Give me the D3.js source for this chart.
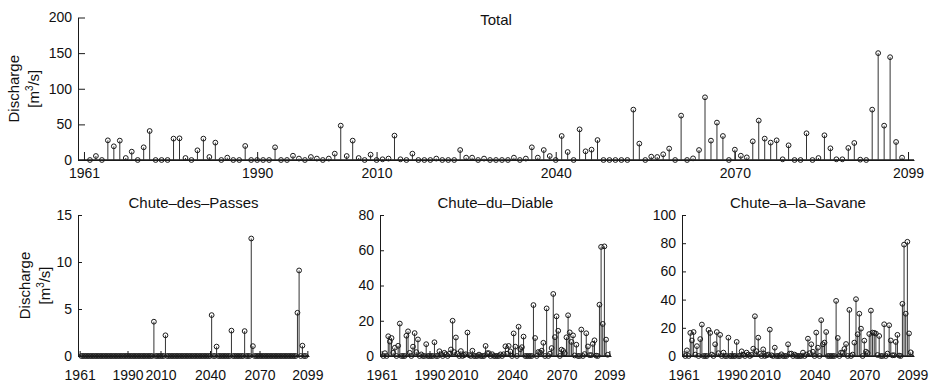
<!DOCTYPE html>
<html>
<head>
<meta charset="utf-8">
<script src="https://cdnjs.cloudflare.com/ajax/libs/d3/7.8.5/d3.min.js"></script>
<style>
body { margin: 0; background: #fff; }
svg text { font-family: "Liberation Sans", Arial, sans-serif; fill: #111; }
</style>
</head>
<body>
<svg id="svg1" width="931" height="382"></svg>
<script>

// one value per year, 1962 .. 2098
var firstYear = 1962;
var lastYear = 2098;
var tickYears = [1961, 1990, 2010, 2040, 2070, 2099];

var total = [
  0, 5.6, 0, 27.6, 19.2, 27.2, 2.8, 11.7, 0, 17.8,
  40.7, 0, 0, 0, 30, 30.4, 2.8, 0, 13.6, 30,
  4.2, 24.4, 0, 3.3, 0, 0, 19.7, 0, 0, 0,
  0, 17.8, 0, 0, 6, 2, 0, 4.2, 2, 0,
  2, 8.9, 48.2, 5.6, 27.2, 2.8, 0, 7.5, 0, 1,
  2, 34.2, 1, 0, 8.9, 0, 0, 0, 2, 0,
  0, 0, 14, 3.3, 3.3, 0, 2, 0, 0, 0,
  0, 3.3, 0, 2, 17.8, 3.3, 14, 5.6, 0, 33.7,
  11.2, 0, 43, 12.2, 14.5, 28, 0, 0, 0, 0,
  0, 70.7, 23, 0, 4.7, 4.2, 8, 16, 0, 62.3,
  0, 2.3, 14, 88, 27.2, 52.5, 33.7, 0, 14.5, 6,
  3.7, 26.2, 55.3, 30, 24.4, 27.6, 1, 20.6, 0, 0,
  37.5, 0, 2.8, 34.7, 16.4, 1, 1, 16.9, 23.9, 0.5,
  0, 70.7, 150, 48.2, 144.3, 25.3, 3.3
];

var passes = [
  0, 0, 0, 0, 0, 0, 0, 0, 0, 0,
  0, 0, 0, 0, 0, 0, 0, 0, 0, 0,
  0, 0, 0, 0, 0, 0, 0, 0, 0, 0,
  0, 0, 0, 0, 0, 0, 0, 0, 0, 0,
  0, 0, 0, 0, 3.65, 0, 0, 0, 0, 0,
  0, 2.2, 0, 0, 0, 0, 0, 0, 0, 0,
  0, 0, 0, 0, 0, 0, 0, 0, 0, 0,
  0, 0, 0, 0, 0, 0, 0, 0, 0, 4.35,
  0, 0, 1.0, 0, 0, 0, 0, 0, 0, 0,
  0, 2.7, 0, 0, 0, 0, 0, 0, 0, 2.65,
  0, 0, 0, 12.5, 1.05, 0, 0, 0, 0, 0,
  0, 0, 0, 0, 0, 0, 0, 0, 0, 0,
  0, 0, 0, 0, 0, 0, 0, 0, 0, 0,
  0, 4.6, 9.1, 0, 1.1, 0, 0
];

var diable = [
  0, 1.6, 0, 11.2, 8.2, 10.2, 1.8, 4.7, 0, 5.8,
  18.4, 0, 0, 0, 11.5, 14, 1.8, 0, 5.3, 13,
  2.2, 9.4, 0, 0.9, 0, 0, 6.7, 0, 0, 0,
  0, 7.8, 0, 0, 2.7, 1, 0, 1.8, 1, 0,
  1.2, 3.7, 20, 2.2, 10.5, 1.3, 0, 2.8, 0, 0.5,
  1, 13.3, 0.5, 0, 3, 0, 0, 0, 0.8, 0,
  0, 0, 5.7, 1.6, 1.6, 0, 1, 0, 0, 0,
  0, 0.9, 0, 1, 5.5, 1.3, 5.7, 2.6, 0, 12.8,
  5.3, 0, 16.6, 3.9, 5, 11, 0, 0, 0, 0,
  0, 28.9, 10.2, 0, 2.3, 2, 3, 7.5, 0, 27,
  0, 1.3, 4.5, 35.2, 10.7, 22.5, 14.3, 0, 3.6, 2.9,
  1.6, 10.6, 23.1, 13.4, 8, 11.7, 0.3, 6.4, 0, 0,
  15, 0, 1.1, 12.9, 5.4, 0.5, 0.5, 6.9, 8.9, 0.2,
  0, 29.1, 61.9, 18.2, 62.2, 9.3, 0.7
];

var savane = [
  0, 4, 0, 16.4, 11, 17, 1, 7, 0, 12,
  22.3, 0, 0, 0, 18.5, 16.4, 1, 0, 8.3, 17,
  2, 15, 0, 2.4, 0, 0, 13, 0, 0, 0,
  0, 10, 0, 0, 3.3, 1, 0, 2.4, 1, 0,
  0.8, 5.2, 28.2, 3.4, 13, 1.5, 0, 4.7, 0, 0.5,
  1, 18.7, 0.5, 0, 5.9, 0, 0, 0, 1.2, 0,
  0, 0, 8.3, 1.7, 1.7, 0, 1, 0, 0, 0,
  0, 2.4, 0, 1, 12.3, 2, 8.3, 3, 0, 16.6,
  5.9, 0, 25.4, 8.3, 9.5, 17, 0, 0, 0, 0,
  0, 39.1, 12.8, 0, 2.4, 2.2, 5, 8.5, 0, 32.7,
  0, 1, 9.5, 40.3, 15.4, 30, 19.4, 0, 10.9, 3.1,
  2.1, 15.6, 32.2, 16.6, 16.4, 15.9, 0.7, 14.2, 0, 0,
  22.5, 0, 1.7, 21.8, 11, 0.5, 0.5, 10, 15, 0.3,
  0, 37, 79, 30, 81, 16, 2.6
];

var svg1 = d3.select("#svg1");
var years = d3.range(firstYear, lastYear + 1);

var panels = [
  {values: total,  title: "Total",            left: 78,  right: 914, top: 17.5, bottom: 160, yMax: 200, yTicks: [0, 50, 100, 150, 200],   tick: 7, xpad: 8,  titleY: 24.5, ylab: 19},
  {values: passes, title: "Chute\u2013des\u2013Passes",  left: 78,  right: 309, top: 215, bottom: 356, yMax: 15,  yTicks: [0, 5, 10, 15],          tick: 4, xpad: 14, titleY: 208, ylab: 30},
  {values: diable, title: "Chute\u2013du\u2013Diable",   left: 380, right: 611, top: 215, bottom: 356, yMax: 80,  yTicks: [0, 20, 40, 60, 80],      tick: 4, xpad: 14, titleY: 208, ylab: null},
  {values: savane, title: "Chute\u2013a\u2013la\u2013Savane", left: 682, right: 914, top: 215, bottom: 356, yMax: 100, yTicks: [0, 20, 40, 60, 80, 100], tick: 4, xpad: 14, titleY: 208, ylab: null}
];

panels.forEach(drawPanel);

function drawPanel(p) {
  var x = d3.scaleLinear().domain([1960, 2100]).range([p.left, p.right]);
  var y = d3.scaleLinear().domain([0, p.yMax]).range([p.bottom, p.top]);

  var g = svg1.append("g");

  var xAxis = d3.axisBottom(x)
    .tickValues(tickYears)
    .tickFormat(d3.format("d"))
    .tickSize(-(p.tick + 1))
    .tickSizeOuter(0)
    .tickPadding(p.xpad);
  var yAxis = d3.axisLeft(y)
    .tickValues(p.yTicks)
    .tickSize(-p.tick)
    .tickSizeOuter(0)
    .tickPadding(6);

  g.append("g")
    .attr("transform", `translate(0,${p.bottom})`)
    .call(xAxis);
  g.append("g")
    .attr("transform", `translate(${p.left},0)`)
    .call(yAxis);

  g.selectAll(".domain").attr("stroke", "#1a1a1a").attr("stroke-width", 1);
  g.selectAll(".tick line").attr("stroke", "#1a1a1a");
  g.selectAll(".tick text").attr("fill", "#111").style("font-size", "14px");

  // baseline of the stems
  g.append("line")
    .attr("x1", p.left).attr("x2", p.right)
    .attr("y1", y(0)).attr("y2", y(0))
    .attr("stroke", "#1a1a1a")
    .attr("stroke-width", 1.5);

  g.selectAll("line.stem")
    .data(p.values)
    .enter()
    .append("line")
    .attr("class", "stem")
    .attr("x1", (d, i) => x(years[i]))
    .attr("x2", (d, i) => x(years[i]))
    .attr("y1", y(0))
    .attr("y2", d => y(d))
    .attr("stroke", "#333")
    .attr("stroke-width", 1);

  g.selectAll("circle")
    .data(p.values)
    .enter()
    .append("circle")
    .attr("cx", (d, i) => x(years[i]))
    .attr("cy", d => y(d))
    .attr("r", 2.4)
    .attr("fill", "none")
    .attr("stroke", "#1a1a1a")
    .attr("stroke-width", 1);

  g.append("text")
    .attr("x", (p.left + p.right) / 2)
    .attr("y", p.titleY)
    .attr("text-anchor", "middle")
    .style("font-size", "15px")
    .text(p.title);

  if (p.ylab != null) {
    var cy = (p.top + p.bottom) / 2;
    g.append("text")
      .attr("transform", `translate(${p.ylab},${cy}) rotate(-90)`)
      .attr("text-anchor", "middle")
      .style("font-size", "15px")
      .text("Discharge");
    var t2 = g.append("text")
      .attr("transform", `translate(${p.ylab + 20},${cy}) rotate(-90)`)
      .attr("text-anchor", "middle")
      .style("font-size", "15px");
    t2.append("tspan").text("[m");
    t2.append("tspan").attr("dy", -6).style("font-size", "10px").text("3");
    t2.append("tspan").attr("dy", 6).text("/s]");
  }
}
</script>
</body>
</html>
